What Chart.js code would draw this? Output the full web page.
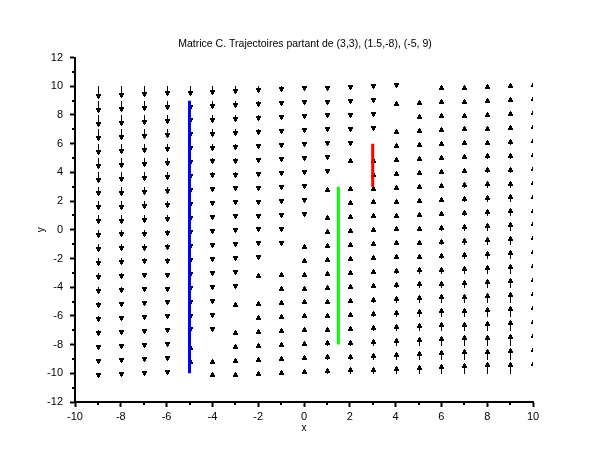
<!DOCTYPE html>
<html>
<head>
<meta charset="utf-8">
<script src="https://cdn.jsdelivr.net/npm/chart.js@4"></script>
<style>
  html, body { margin: 0; padding: 0; background: #fff; }
</style>
</head>
<body>
<canvas id="champ" width="610" height="460"></canvas>
<script>
// grille du champ de vecteurs
const gridX = [-9, -8, -7, -6, -5, -4, -3, -2, -1, 0, 1, 2, 3, 4, 5, 6, 7, 8, 9, 10];
const gridY = [10, 9, 8, 7, 6, 5, 4, 3, 2, 1, 0, -1, -2, -3, -4, -5, -6, -7, -8, -9, -10];

// composante verticale du champ (la composante horizontale est nulle), une ligne par valeur de gridY
const fieldV = [
    [-28, -26, -24, -22, -20, -18, -16, -14, -12, -10, -8, -6, -4, -2, 0, 2, 4, 6, 8, 10],
    [-27, -25, -23, -21, -19, -17, -15, -13, -11, -9, -7, -5, -3, -1, 1, 3, 5, 7, 9, 11],
    [-26, -24, -22, -20, -18, -16, -14, -12, -10, -8, -6, -4, -2, 0, 2, 4, 6, 8, 10, 12],
    [-25, -23, -21, -19, -17, -15, -13, -11, -9, -7, -5, -3, -1, 1, 3, 5, 7, 9, 11, 13],
    [-24, -22, -20, -18, -16, -14, -12, -10, -8, -6, -4, -2, 0, 2, 4, 6, 8, 10, 12, 14],
    [-23, -21, -19, -17, -15, -13, -11, -9, -7, -5, -3, -1, 1, 3, 5, 7, 9, 11, 13, 15],
    [-22, -20, -18, -16, -14, -12, -10, -8, -6, -4, -2, 0, 2, 4, 6, 8, 10, 12, 14, 16],
    [-21, -19, -17, -15, -13, -11, -9, -7, -5, -3, -1, 1, 3, 5, 7, 9, 11, 13, 15, 17],
    [-20, -18, -16, -14, -12, -10, -8, -6, -4, -2, 0, 2, 4, 6, 8, 10, 12, 14, 16, 18],
    [-19, -17, -15, -13, -11, -9, -7, -5, -3, -1, 1, 3, 5, 7, 9, 11, 13, 15, 17, 19],
    [-18, -16, -14, -12, -10, -8, -6, -4, -2, 0, 2, 4, 6, 8, 10, 12, 14, 16, 18, 20],
    [-17, -15, -13, -11, -9, -7, -5, -3, -1, 1, 3, 5, 7, 9, 11, 13, 15, 17, 19, 21],
    [-16, -14, -12, -10, -8, -6, -4, -2, 0, 2, 4, 6, 8, 10, 12, 14, 16, 18, 20, 22],
    [-15, -13, -11, -9, -7, -5, -3, -1, 1, 3, 5, 7, 9, 11, 13, 15, 17, 19, 21, 23],
    [-14, -12, -10, -8, -6, -4, -2, 0, 2, 4, 6, 8, 10, 12, 14, 16, 18, 20, 22, 24],
    [-13, -11, -9, -7, -5, -3, -1, 1, 3, 5, 7, 9, 11, 13, 15, 17, 19, 21, 23, 25],
    [-12, -10, -8, -6, -4, -2, 0, 2, 4, 6, 8, 10, 12, 14, 16, 18, 20, 22, 24, 26],
    [-11, -9, -7, -5, -3, -1, 1, 3, 5, 7, 9, 11, 13, 15, 17, 19, 21, 23, 25, 27],
    [-10, -8, -6, -4, -2, 0, 2, 4, 6, 8, 10, 12, 14, 16, 18, 20, 22, 24, 26, 28],
    [-9, -7, -5, -3, -1, 1, 3, 5, 7, 9, 11, 13, 15, 17, 19, 21, 23, 25, 27, 29],
    [-8, -6, -4, -2, 0, 2, 4, 6, 8, 10, 12, 14, 16, 18, 20, 22, 24, 26, 28, 30]
];

// trajectoires : abscisse, ordonnée de départ, ordonnée d'arrivée
const trajX = [3, 1.5, -5];
const trajStartY = [3, -8, 9];
const trajEndY = [6, 3, -10];
const trajColors = ['#ff0000', '#00ff00', '#0000ff'];

const xTicksMinor = [-9, -7, -5, -3, -1, 1, 3, 5, 7, 9];
const yTicksMinor = [-11, -9, -7, -5, -3, -1, 1, 3, 5, 7, 9, 11];

const arrowScale = 0.029; // longueur des flèches en unités de y par unité du champ
const headRows = [1, 3, 3, 5, 5]; // largeur de la pointe, ligne par ligne depuis le bout

Chart.defaults.font.family = "'Liberation Sans', Arial, sans-serif";
Chart.defaults.color = '#000';

const champPlugin = {
    id: 'champ',
    beforeDatasetsDraw(chart) {
        const { ctx, chartArea, scales } = chart;
        ctx.save();
        ctx.beginPath();
        ctx.rect(chartArea.left, chartArea.top, chartArea.right - chartArea.left, chartArea.bottom - chartArea.top);
        ctx.clip();
        ctx.fillStyle = '#000';
        gridY.forEach((gy, r) => {
            gridX.forEach((gx, c) => {
                const v = fieldV[r][c];
                if (v === 0) return;
                const cx = Math.round(scales.x.getPixelForValue(gx));
                const y0 = Math.round(scales.y.getPixelForValue(gy));
                const y1 = Math.round(scales.y.getPixelForValue(gy + v * arrowScale));
                const dir = y1 > y0 ? 1 : -1;
                // tige
                ctx.fillRect(cx, Math.min(y0, y1), 1, Math.abs(y1 - y0) + 1);
                // pointe
                headRows.forEach((w, k) => {
                    ctx.fillRect(cx - (w - 1) / 2, y1 - dir * k, w, 1);
                });
            });
        });
        ctx.restore();
    },
    afterDraw(chart) {
        // petites graduations intermédiaires
        const { ctx, chartArea, scales } = chart;
        ctx.save();
        ctx.strokeStyle = '#000';
        ctx.lineWidth = 2;
        xTicksMinor.forEach(v => {
            const px = Math.round(scales.x.getPixelForValue(v));
            ctx.beginPath();
            ctx.moveTo(px, chartArea.bottom);
            ctx.lineTo(px, chartArea.bottom + 3);
            ctx.stroke();
        });
        yTicksMinor.forEach(v => {
            const py = Math.round(scales.y.getPixelForValue(v));
            ctx.beginPath();
            ctx.moveTo(chartArea.left, py);
            ctx.lineTo(chartArea.left - 3, py);
            ctx.stroke();
        });
        ctx.restore();
    }
};

const datasets = trajX.map((x, i) => ({
    data: [{ x: x, y: trajStartY[i] }, { x: x, y: trajEndY[i] }],
    showLine: true,
    borderColor: trajColors[i],
    borderWidth: 3,
    pointRadius: 0
}));

new Chart(document.getElementById('champ').getContext('2d'), {
    type: 'scatter',
    data: { datasets: datasets },
    plugins: [champPlugin],
    options: {
        responsive: false,
        animation: false,
        layout: { padding: 0 },
        plugins: {
            legend: { display: false },
            tooltip: { enabled: false },
            title: {
                display: true,
                text: 'Matrice C. Trajectoires partant de (3,3), (1.5,-8), (-5, 9)',
                font: { size: 10.5, weight: 'normal' },
                color: '#000',
                padding: { top: 38, bottom: 7 }
            }
        },
        scales: {
            x: {
                type: 'linear',
                position: 'bottom',
                min: -10,
                max: 10,
                afterFit: s => { s.height = 58; },
                ticks: { stepSize: 2, font: { size: 11 }, color: '#000', padding: 3, maxRotation: 0, autoSkip: false },
                grid: { drawOnChartArea: false, tickLength: 5, tickWidth: 2, tickColor: '#000' },
                border: { display: true, color: '#000', width: 2 },
                title: { display: true, text: 'x', font: { size: 10 }, color: '#000', padding: { top: 4, bottom: 26 } }
            },
            y: {
                type: 'linear',
                min: -12,
                max: 12,
                afterFit: s => { s.width = 75; },
                ticks: { stepSize: 2, font: { size: 11 }, color: '#000', padding: 7, autoSkip: false },
                grid: { drawOnChartArea: false, tickLength: 5, tickWidth: 2, tickColor: '#000' },
                border: { display: true, color: '#000', width: 2 },
                title: { display: true, text: 'y', font: { size: 10 }, color: '#000', padding: { top: 35, bottom: 4 } }
            },
            // marge droite réservée, sans rien afficher
            yRight: {
                type: 'linear',
                position: 'right',
                min: -12,
                max: 12,
                afterFit: s => { s.width = 77; },
                ticks: { display: false },
                grid: { display: false },
                border: { display: false }
            }
        }
    }
});
</script>
</body>
</html>
